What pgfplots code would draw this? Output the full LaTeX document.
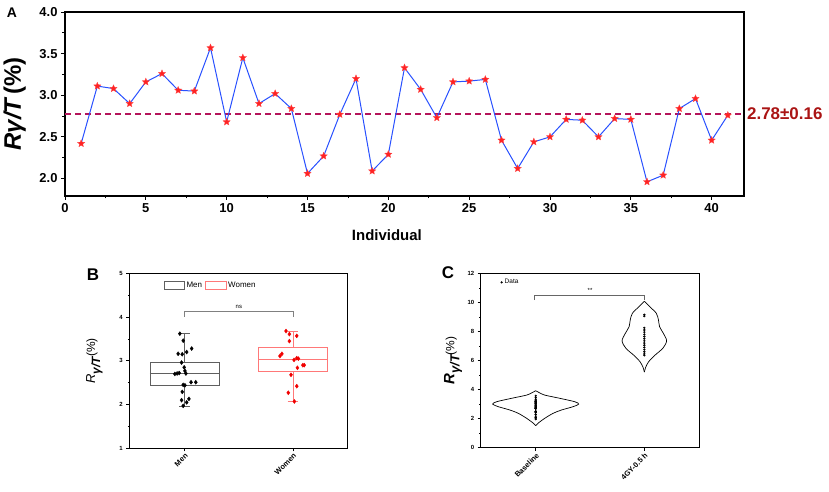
\documentclass[border=0pt]{standalone}
\usepackage{pgfplots}
\usepackage{pgfplotstable}
\pgfplotsset{compat=1.18}
\usepgfplotslibrary{statistics}
\usepackage{fontspec}
\setmainfont{Liberation Sans}
\definecolor{lineblue}{RGB}{40,80,255}
\definecolor{starred}{RGB}{255,35,35}
\definecolor{meanline}{RGB}{180,20,90}
\definecolor{meantext}{RGB}{170,20,20}
\definecolor{menbox}{RGB}{95,95,95}
\definecolor{wbox}{RGB}{255,120,120}
\definecolor{wpt}{RGB}{240,0,0}

\pgfdeclareplotmark{fstar}{%
  \pgfpathmoveto{\pgfpointpolar{90}{\pgfplotmarksize}}%
  \pgfpathlineto{\pgfpointpolar{126}{0.45\pgfplotmarksize}}%
  \pgfpathlineto{\pgfpointpolar{162}{\pgfplotmarksize}}%
  \pgfpathlineto{\pgfpointpolar{198}{0.45\pgfplotmarksize}}%
  \pgfpathlineto{\pgfpointpolar{234}{\pgfplotmarksize}}%
  \pgfpathlineto{\pgfpointpolar{270}{0.45\pgfplotmarksize}}%
  \pgfpathlineto{\pgfpointpolar{306}{\pgfplotmarksize}}%
  \pgfpathlineto{\pgfpointpolar{342}{0.45\pgfplotmarksize}}%
  \pgfpathlineto{\pgfpointpolar{18}{\pgfplotmarksize}}%
  \pgfpathlineto{\pgfpointpolar{54}{0.45\pgfplotmarksize}}%
  \pgfpathclose
  \pgfusepathqfillstroke
}

\pgfplotstableread{
x y
1 2.42
2 3.11
3 3.08
4 2.90
5 3.16
6 3.26
7 3.06
8 3.05
9 3.57
10 2.68
11 3.45
12 2.90
13 3.02
14 2.84
15 2.06
16 2.27
17 2.77
18 3.20
19 2.09
20 2.29
21 3.33
22 3.07
23 2.73
24 3.16
25 3.17
26 3.19
27 2.46
28 2.12
29 2.44
30 2.50
31 2.71
32 2.70
33 2.50
34 2.72
35 2.71
36 1.96
37 2.04
38 2.84
39 2.96
40 2.46
41 2.76
}\dataA

\pgfplotstableread{
x y
0.956 3.62
0.987 3.46
1.065 3.28
1.019 3.20
0.940 3.16
0.978 3.15
0.972 2.96
0.996 2.85
0.910 2.70
0.931 2.71
0.950 2.72
1.003 2.77
1.012 2.71
0.987 2.45
1.003 2.44
1.059 2.51
1.103 2.51
0.978 2.29
0.972 2.10
1.040 2.13
1.019 2.05
0.987 1.97
}\dataMen

\pgfplotstableread{
x y
1.935 3.68
1.966 3.61
2.034 3.57
1.966 3.45
1.879 3.11
1.897 3.16
2.009 3.02
2.034 3.06
2.049 3.05
2.090 2.90
2.103 2.90
2.040 2.84
1.981 2.68
2.034 2.42
1.956 2.27
2.012 2.07
}\dataWomen

\pgfplotstableread{
x y
2 9.15
2 9.05
2 8.25
2 8.10
2 7.95
2 7.80
2 7.65
2 7.50
2 7.35
2 7.20
2 7.05
2 6.90
2 6.75
2 6.60
2 6.45
2 6.35
}\dataGY

\begin{document}
\begin{tikzpicture}
\useasboundingbox (0,0) rectangle (829bp,492bp);

% ---------------- Panel A ----------------
\begin{axis}[
  at={(65bp,296bp)}, anchor=south west, scale only axis,
  width=679bp, height=184bp,
  xmin=0, xmax=42, ymin=1.79, ymax=4.0,
  xtick={0,5,...,40}, ytick={2.0,2.5,3.0,3.5,4.0},
  minor xtick={2.5,7.5,...,37.5},
  minor ytick={2.25,2.75,3.25,3.75},
  tick align=outside, xtick pos=bottom, ytick pos=left,
  major tick length=4bp, minor tick length=2.5bp,
  every tick/.style={black, line width=0.8bp},
  axis line style={line width=1.2bp},
  /pgf/number format/assume math mode=true,
  yticklabel style={/pgf/number format/fixed, /pgf/number format/fixed zerofill, /pgf/number format/precision=1},
  ticklabel style={font=\fontsize{13}{13}\selectfont\bfseries},
  xlabel={\fontsize{15}{15}\selectfont\bfseries Individual},
  xlabel style={at={(axis description cs:0.474,0)}, anchor=north, inner sep=0pt, yshift=-33bp},
  ylabel={\fontsize{24}{24}\selectfont\bfseries\itshape R\kern0.5bp γ/T\kern4bp\upshape (\%)},
  ylabel style={at={(axis description cs:-0.074,0.5)}, anchor=center, rotate=0},
  clip=false,
]
\addplot[meanline, line width=1.2bp, dash pattern=on 6bp off 4bp] coordinates {(0,2.775) (42,2.775)};
\addplot[lineblue, line width=1bp, mark=fstar, mark size=3.8bp,
  mark options={fill=starred, draw=starred!85!white, line width=0.3bp, solid}] table[x=x,y=y] {\dataA};
\node[anchor=west, inner sep=0pt, text=meantext, font=\fontsize{17}{17}\selectfont\bfseries] at (axis cs:42,2.775) {\kern3bp 2.78±0.16};
\end{axis}

% ---------------- Panel B ----------------
\begin{axis}[
  at={(129.3bp,43.7bp)}, anchor=south west, scale only axis,
  width=218bp, height=175bp,
  xmin=0.49, xmax=2.5, ymin=1, ymax=5,
  xtick={1,2}, xticklabels={Men,Women},
  ytick={1,2,3,4,5}, minor ytick={1.5,2.5,3.5,4.5},
  tick align=outside, xtick pos=bottom, ytick pos=left,
  major tick length=3bp, minor tick length=1.5bp,
  every tick/.style={black, line width=0.6bp},
  axis line style={line width=0.8bp},
  /pgf/number format/assume math mode=true,
  yticklabel style={font=\fontsize{6}{6}\selectfont\bfseries},
  xticklabel style={font=\fontsize{7.5}{7.5}\selectfont\bfseries, rotate=45, anchor=north east, inner sep=1pt},
  ylabel={\fontsize{13}{13}\selectfont\itshape R\raisebox{-5bp}{\fontsize{12}{12}\selectfont\bfseries\itshape γ/T}\upshape\fontsize{12}{12}\selectfont(\%)},
  ylabel style={at={(axis description cs:-0.16,0.5)}, anchor=center},
  legend style={draw=none, fill=none, at={(axis description cs:0.156,0.93)}, anchor=west,
    legend columns=2, font=\fontsize{8}{8}\selectfont, inner sep=0pt,
    /tikz/every even column/.append style={column sep=1bp}},
  legend cell align=left,
  boxplot/draw direction=y,
  clip=false,
]
\addlegendimage{legend image code/.code={\draw[menbox, line width=0.6bp] (0bp,-3.8bp) rectangle (20.5bp,3.8bp);}}
\addlegendentry{Men}
\addlegendimage{legend image code/.code={\draw[wbox, line width=0.6bp] (0bp,-3.8bp) rectangle (20.5bp,3.8bp);}}
\addlegendentry{Women}
\addplot[menbox, line width=0.6bp, forget plot, boxplot prepared={
  lower whisker=1.95, lower quartile=2.447, median=2.714,
  upper quartile=2.957, upper whisker=3.63,
  draw position=1, box extend=0.64, whisker extend=0.1}] coordinates {};
\addplot[wbox, line width=0.7bp, forget plot, boxplot prepared={
  lower whisker=2.065, lower quartile=2.75, median=3.03,
  upper quartile=3.30, upper whisker=3.68,
  draw position=2, box extend=0.64, whisker extend=0.1}] coordinates {};
\addplot[only marks, mark=diamond*, mark size=2bp, black, forget plot] table[x=x,y=y] {\dataMen};
\addplot[only marks, mark=diamond*, mark size=2bp, wpt, forget plot] table[x=x,y=y] {\dataWomen};
\addplot[gray, line width=0.6bp, forget plot] coordinates {(1,4.01) (1,4.12) (2,4.12) (2,4.01)};
\node[font=\fontsize{6}{6}\selectfont, inner sep=0pt] at (axis cs:1.5,4.24) {ns};
\end{axis}

% ---------------- Panel C ----------------
\begin{axis}[
  at={(480.7bp,44.3bp)}, anchor=south west, scale only axis,
  width=218.3bp, height=174.4bp,
  xmin=0.494, xmax=2.503, ymin=0, ymax=12,
  xtick={1,2}, xticklabels={Baseline,4GY-0.5 h},
  ytick={0,2,...,12}, minor ytick={1,3,...,11},
  tick align=outside, xtick pos=bottom, ytick pos=left,
  major tick length=3bp, minor tick length=1.5bp,
  every tick/.style={black, line width=0.6bp},
  axis line style={line width=0.8bp},
  /pgf/number format/assume math mode=true,
  yticklabel style={font=\fontsize{6}{6}\selectfont\bfseries},
  xticklabel style={font=\fontsize{7.5}{7.5}\selectfont\bfseries, rotate=45, anchor=north east, inner sep=1pt},
  ylabel={\fontsize{15}{15}\selectfont\bfseries\itshape R\raisebox{-5bp}{\fontsize{13}{13}\selectfont\bfseries\itshape γ/T}\mdseries\upshape\fontsize{12}{12}\selectfont(\%)},
  ylabel style={at={(axis description cs:-0.127,0.5)}, anchor=center},
  legend style={draw=none, fill=none, at={(axis description cs:0.09,0.948)}, anchor=west,
    font=\fontsize{6.5}{6.5}\selectfont, inner sep=0pt},
  legend cell align=left,
  clip=false,
]
\addlegendimage{legend image code/.code={\fill (2bp,0bp) circle (0.9bp);}}
\addlegendentry{Data}
% baseline violin
\addplot[black, line width=0.7bp, smooth, forget plot] coordinates {
 (1,3.92) (1.035,3.78) (1.083,3.62) (1.221,3.40) (1.359,3.165) (1.396,3.0)
 (1.343,2.82) (1.236,2.59) (1.16,2.365) (1.083,2.02) (1.021,1.68) (1,1.51)};
\addplot[black, line width=0.7bp, smooth, forget plot] coordinates {
 (1,3.92) (0.965,3.78) (0.917,3.62) (0.779,3.40) (0.641,3.165) (0.604,3.0)
 (0.657,2.82) (0.764,2.59) (0.84,2.365) (0.917,2.02) (0.979,1.68) (1,1.51)};
% 4GY violin
\addplot[black, line width=0.7bp, smooth, forget plot] coordinates {
 (2,10.08) (2.05,9.70) (2.11,9.25) (2.13,8.79) (2.14,8.33) (2.175,7.87)
 (2.205,7.35) (2.17,6.84) (2.10,6.38) (2.04,5.92) (2.012,5.53) (2,5.2)};
\addplot[black, line width=0.7bp, smooth, forget plot] coordinates {
 (2,10.08) (1.95,9.70) (1.89,9.25) (1.87,8.79) (1.86,8.33) (1.825,7.87)
 (1.795,7.35) (1.83,6.84) (1.90,6.38) (1.96,5.92) (1.988,5.53) (2,5.2)};
\addplot[only marks, mark=*, mark size=0.9bp, black, forget plot] table[x expr=1, y=y] {\dataA};
\addplot[only marks, mark=*, mark size=0.9bp, black, forget plot] table[x=x, y=y] {\dataGY};
\addplot[gray!80!black, line width=0.6bp, forget plot] coordinates {(0.99,10.16) (0.99,10.51) (2,10.51) (2,10.16)};
\node[font=\fontsize{6}{6}\selectfont, inner sep=0pt] at (axis cs:1.5,10.8) {**};
\end{axis}

% panel letters
\node[font=\fontsize{14}{14}\selectfont\bfseries] at (12bp,479bp) {A};
\node[font=\fontsize{17}{17}\selectfont\bfseries] at (93bp,217bp) {B};
\node[font=\fontsize{17}{17}\selectfont\bfseries] at (448bp,219bp) {C};
\end{tikzpicture}
\end{document}
